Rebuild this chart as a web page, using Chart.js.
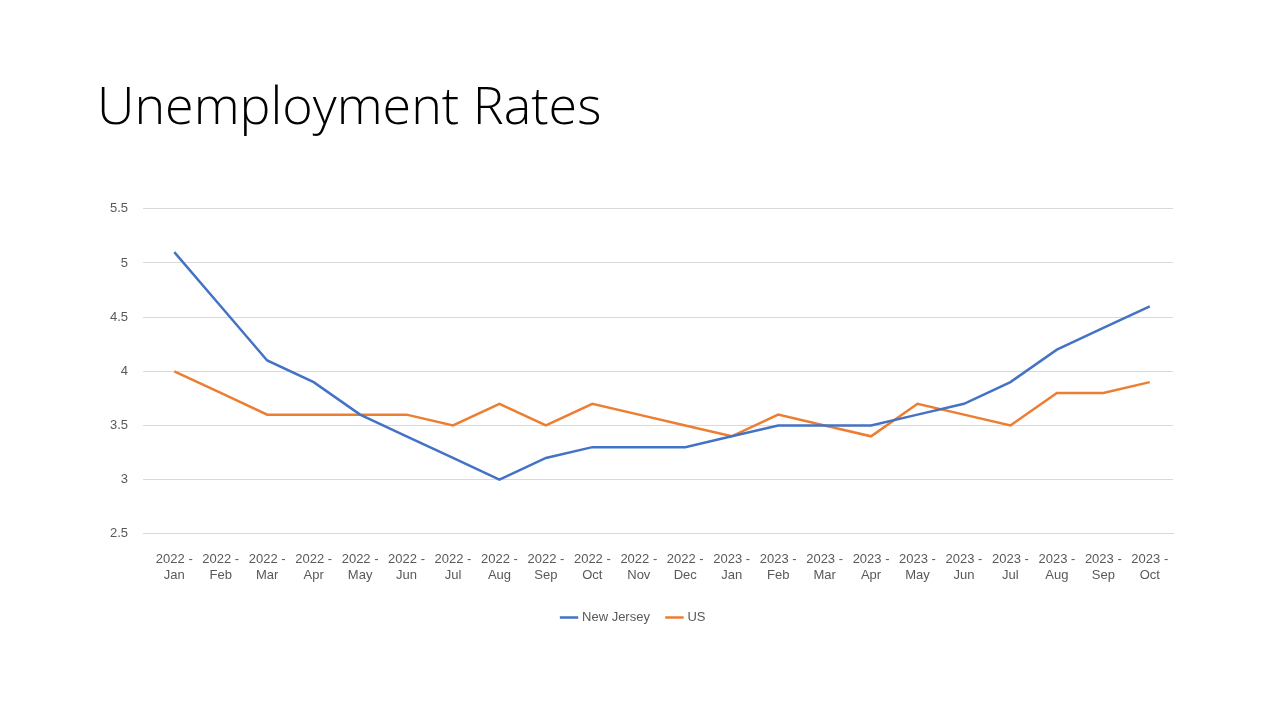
<!DOCTYPE html>
<html>
<head>
<meta charset="utf-8">
<script src="https://cdn.jsdelivr.net/npm/chart.js@4"></script>
<style>
  body { margin: 0; background: #fff; width: 1273px; height: 716px; overflow: hidden; font-family: "Open Sans", "Noto Sans", sans-serif; }
  #title { position: absolute; left: 97px; top: 68px; font-size: 52px; font-weight: 300; color: #000; }
  #wrap { position: absolute; left: 0; top: 186px; width: 1273px; height: 462px; }
</style>
</head>
<body>
<div id="title">Unemployment Rates</div>
<div id="wrap"><canvas id="chart"></canvas></div>
<script>
// MONTHS
const months = [
  ["2022 -", "Jan"], ["2022 -", "Feb"], ["2022 -", "Mar"], ["2022 -", "Apr"],
  ["2022 -", "May"], ["2022 -", "Jun"], ["2022 -", "Jul"], ["2022 -", "Aug"],
  ["2022 -", "Sep"], ["2022 -", "Oct"], ["2022 -", "Nov"], ["2022 -", "Dec"],
  ["2023 -", "Jan"], ["2023 -", "Feb"], ["2023 -", "Mar"], ["2023 -", "Apr"],
  ["2023 -", "May"], ["2023 -", "Jun"], ["2023 -", "Jul"], ["2023 -", "Aug"],
  ["2023 -", "Sep"], ["2023 -", "Oct"],
];

const newJersey = [5.1, 4.6, 4.1, 3.9, 3.6, 3.4, 3.2, 3.0, 3.2, 3.3, 3.3, 3.3,
  3.4, 3.5, 3.5, 3.5, 3.6, 3.7, 3.9, 4.2, 4.4, 4.6];

const us = [4.0, 3.8, 3.6, 3.6, 3.6, 3.6, 3.5, 3.7, 3.5, 3.7, 3.6, 3.5,
  3.4, 3.6, 3.5, 3.4, 3.7, 3.6, 3.5, 3.8, 3.8, 3.9];

new Chart(document.getElementById("chart"), {
  type: "line",
  data: {
    labels: months,
    datasets: [
      { label: "New Jersey", data: newJersey, borderColor: "#4472C4", backgroundColor: "#4472C4", borderWidth: 2.5, pointRadius: 0, tension: 0 },
      { label: "US", data: us, borderColor: "#ED7D31", backgroundColor: "#ED7D31", borderWidth: 2.5, pointRadius: 0, tension: 0 },
    ],
  },
  options: {
    responsive: true,
    maintainAspectRatio: false,
    animation: false,
    layout: { padding: { left: 95, right: 100, top: 12, bottom: 14 } },
    plugins: {
      legend: {
        position: "bottom",
        labels: { usePointStyle: true, pointStyle: "line", boxWidth: 30, color: "#595959", font: { size: 13 }, padding: 18 },
      },
      tooltip: { enabled: false },
    },
    scales: {
      x: {
        offset: true,
        grid: { display: false },
        border: { color: "#d9d9d9" },
        ticks: { color: "#595959", font: { size: 13 }, maxRotation: 0, autoSkip: false, padding: 10 },
      },
      y: {
        min: 2.5,
        max: 5.5,
        grid: { color: "#d9d9d9" },
        border: { display: false },
        ticks: {
          stepSize: 0.5, color: "#595959", font: { size: 13 }, padding: 15,
          callback: function (value) {
            return String(value);
          },
        },
      },
    },
  },
});
</script>
</body>
</html>
